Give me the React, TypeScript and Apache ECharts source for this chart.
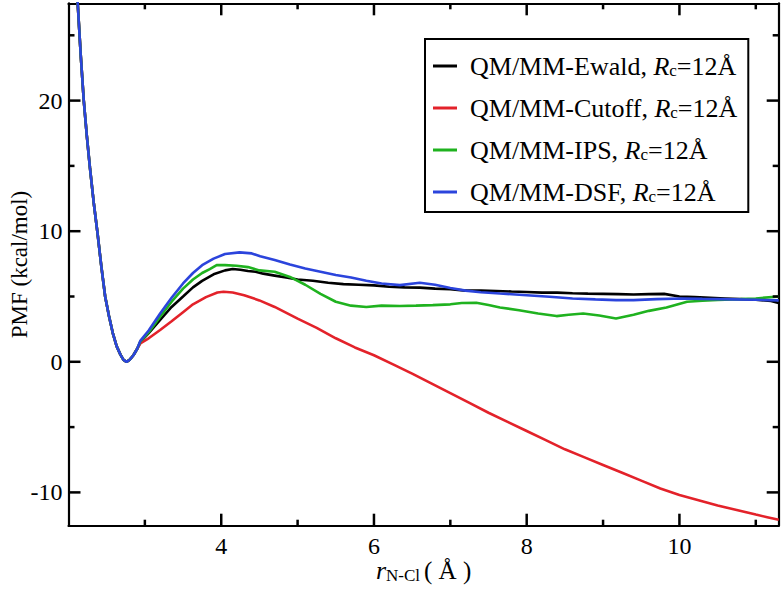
import React, { useEffect, useRef } from "react";
import * as echarts from "echarts";

const FONT = '"Liberation Serif", "Times New Roman", Times, serif';

// shared repulsive wall and minimum (all four curves coincide here)
const commonBranch: number[][] = [
  [2.08, 31], [2.12, 27.5], [2.16, 23.5], [2.2, 20.0], [2.24, 17.3], [2.28, 14.9],
  [2.33, 12.2], [2.38, 9.85], [2.43, 7.3], [2.48, 5.0], [2.53, 3.5], [2.58, 2.2],
  [2.63, 1.2], [2.68, 0.55], [2.72, 0.15], [2.76, 0], [2.8, 0.15], [2.85, 0.5], [2.9, 1.0],
];

const ewaldTail: number[][] = [
  [2.94, 1.5], [3.05, 2.2], [3.2, 3.2], [3.35, 4.2], [3.5, 5.0], [3.63, 5.7], [3.75, 6.2],
  [3.9, 6.7], [4.05, 7.0], [4.15, 7.1], [4.25, 7.05], [4.35, 6.95], [4.45, 6.9], [4.55, 6.75],
  [4.7, 6.6], [4.85, 6.45], [5.0, 6.3], [5.2, 6.2], [5.4, 6.05], [5.6, 5.95], [5.8, 5.9],
  [6.0, 5.85], [6.2, 5.75], [6.4, 5.7], [6.6, 5.68], [6.8, 5.6], [7.0, 5.55], [7.2, 5.45],
  [7.4, 5.45], [7.6, 5.42], [7.8, 5.38], [8.0, 5.35], [8.2, 5.3], [8.4, 5.3], [8.6, 5.25],
  [8.8, 5.22], [9.0, 5.2], [9.2, 5.18], [9.4, 5.15], [9.6, 5.18], [9.8, 5.2], [10.0, 5.0],
  [10.2, 4.95], [10.4, 4.9], [10.6, 4.85], [10.8, 4.8], [11.0, 4.75], [11.2, 4.65], [11.3, 4.5],
];

const cutoffTail: number[][] = [
  [2.94, 1.4], [3.05, 1.8], [3.2, 2.43], [3.35, 3.1], [3.5, 3.8], [3.63, 4.4], [3.8, 4.95],
  [3.95, 5.3], [4.03, 5.36], [4.15, 5.3], [4.3, 5.1], [4.5, 4.7], [4.7, 4.2], [5.0, 3.3],
  [5.25, 2.6], [5.5, 1.8], [5.75, 1.1], [6.0, 0.5], [6.25, -0.2], [6.5, -0.9], [6.75, -1.65],
  [7.0, -2.4], [7.25, -3.15], [7.5, -3.9], [7.75, -4.6], [8.0, -5.3], [8.25, -6.0], [8.5, -6.7],
  [8.75, -7.3], [9.0, -7.9], [9.25, -8.5], [9.5, -9.1], [9.75, -9.7], [10.0, -10.2],
  [10.25, -10.6], [10.5, -11.0], [10.75, -11.35], [11.0, -11.7], [11.15, -11.9], [11.3, -12.1],
];

const ipsTail: number[][] = [
  [2.94, 1.55], [3.05, 2.25], [3.2, 3.45], [3.35, 4.6], [3.5, 5.6], [3.63, 6.3], [3.75, 6.8],
  [3.85, 7.1], [3.94, 7.4], [4.05, 7.4], [4.2, 7.35], [4.35, 7.25], [4.5, 7.0], [4.7, 6.9],
  [4.9, 6.5], [5.1, 5.9], [5.3, 5.2], [5.5, 4.6], [5.7, 4.3], [5.9, 4.2], [6.1, 4.3],
  [6.34, 4.27], [6.55, 4.3], [6.77, 4.34], [7.0, 4.4], [7.15, 4.5], [7.34, 4.52], [7.5, 4.35],
  [7.65, 4.16], [7.9, 3.95], [8.15, 3.7], [8.39, 3.5], [8.55, 3.6], [8.74, 3.7], [8.95, 3.55],
  [9.17, 3.32], [9.4, 3.6], [9.6, 3.9], [9.83, 4.16], [10.1, 4.6], [10.3, 4.68], [10.5, 4.74],
  [10.8, 4.8], [11.0, 4.85], [11.3, 5.0],
];

const dsfTail: number[][] = [
  [2.94, 1.6], [3.05, 2.4], [3.2, 3.7], [3.35, 4.9], [3.5, 6.0], [3.63, 6.8], [3.75, 7.4],
  [3.9, 7.9], [4.05, 8.25], [4.24, 8.38], [4.4, 8.3], [4.51, 8.09], [4.7, 7.8], [4.9, 7.45],
  [5.1, 7.15], [5.3, 6.9], [5.5, 6.65], [5.7, 6.45], [5.9, 6.2], [6.1, 6.0], [6.34, 5.87],
  [6.6, 6.05], [6.8, 5.9], [7.0, 5.65], [7.2, 5.45], [7.4, 5.33], [7.65, 5.23], [8.0, 5.1],
  [8.3, 4.98], [8.6, 4.85], [8.9, 4.78], [9.17, 4.72], [9.4, 4.72], [9.7, 4.8], [10.04, 4.85],
  [10.3, 4.82], [10.7, 4.78], [11.0, 4.75], [11.3, 4.7],
];

const seriesNames = ["QM/MM-Ewald", "QM/MM-Cutoff", "QM/MM-IPS", "QM/MM-DSF"];
const seriesColors = ["#000000", "#e3222a", "#1fb21f", "#2b44dc"];
const seriesTails = [ewaldTail, cutoffTail, ipsTail, dsfTail];

const xTickLabels = [4, 6, 8, 10];
const xMinorTicks = [3, 5, 7, 9, 11];
const yTickLabels = [-10, 0, 10, 20];
const yMinorTicks = [-5, 5, 15, 25];

const X_MIN = 2.0;
const X_MAX = 11.3;
const Y_MIN = -12.55;
const Y_MAX = 27.45;

const W = 783;
const H = 592;
const G_LEFT = 68.5;
const G_RIGHT = 4.3;
const G_TOP = 3.3;
const G_BOTTOM = 66.3;
const MAJOR_LEN = 12;
const MINOR_LEN = 6;

export default function App() {
  const ref = useRef<HTMLDivElement>(null);
  useEffect(() => {
    if (!ref.current) return;
    const chart = echarts.init(ref.current, undefined, { renderer: "svg" });
    const lineStyle = { color: "#000", width: 2.2 };

    const series: any[] = seriesNames.map((name, i) => ({
      name,
      type: "line",
      xAxisIndex: 0,
      yAxisIndex: 0,
      showSymbol: false,
      symbol: "none",
      clip: true,
      color: seriesColors[i],
      lineStyle: { color: seriesColors[i], width: 2.6 },
      data: [...commonBranch, ...seriesTails[i]],
      z: 2 + i,
    }));

    // tick marks on all four sides (side: 0 bottom, 1 top, 2 left, 3 right)
    const tickItems: number[][] = [];
    const addTicks = (vals: number[], sides: number[], len: number) =>
      vals.forEach((v) => sides.forEach((s) => tickItems.push([s, v, len])));
    addTicks(xTickLabels, [0, 1], MAJOR_LEN);
    addTicks(xMinorTicks, [0, 1], MINOR_LEN);
    addTicks(yTickLabels, [2, 3], MAJOR_LEN);
    addTicks(yMinorTicks, [2, 3], MINOR_LEN);
    series.push({
      type: "custom",
      name: "ticks",
      xAxisIndex: 0,
      yAxisIndex: 0,
      silent: true,
      clip: false,
      z: 50,
      data: tickItems,
      renderItem: (params: any, api: any) => {
        const side = api.value(0);
        const v = api.value(1);
        const len = api.value(2);
        const cs = params.coordSys;
        const st = { stroke: "#000000", lineWidth: 2.5 };
        const left = cs.x;
        const right = cs.x + cs.width;
        const top = cs.y;
        const bottom = cs.y + cs.height;
        if (side === 0 || side === 1) {
          const x = api.coord([v, 0])[0];
          const y0 = side === 0 ? bottom : top;
          const y1 = side === 0 ? bottom - len : top + len;
          return { type: "line", shape: { x1: x, y1: y0, x2: x, y2: y1 }, style: st };
        }
        const y = api.coord([X_MIN + 1, v])[1];
        const x0 = side === 2 ? left : right;
        const x1 = side === 2 ? left + len : right - len;
        return { type: "line", shape: { x1: x0, y1: y, x2: x1, y2: y }, style: st };
      },
    });

    chart.setOption({
      animation: false,
      backgroundColor: "#fff",
      grid: { left: G_LEFT, right: G_RIGHT, top: G_TOP, bottom: G_BOTTOM, containLabel: false, outerBoundsMode: "none" },
      xAxis: [
        {
          type: "value",
          position: "bottom",
          min: X_MIN,
          max: X_MAX,
          axisLine: { show: true, onZero: false, lineStyle },
          axisTick: { show: false },
          splitLine: { show: false },
          axisLabel: {
            show: true,
            customValues: xTickLabels,
            color: "#000",
            fontFamily: FONT,
            fontSize: 24,
            margin: 8,
          },
          name: "{i|r}{s|N-Cl}{n|( Å )}",
          nameLocation: "middle",
          nameGap: 32,
          nameMoveOverlap: false,
          nameTextStyle: {
            color: "#000",
            fontFamily: FONT,
            rich: {
              i: { fontFamily: FONT, fontStyle: "italic", fontSize: 26, color: "#000", lineHeight: 26, verticalAlign: "top" },
              s: { fontFamily: FONT, fontSize: 17, color: "#000", verticalAlign: "bottom", lineHeight: 17, padding: [11, 4, 0, 0] },
              n: { fontFamily: FONT, fontSize: 25, color: "#000", lineHeight: 26, verticalAlign: "top" },
            },
          },
        },
        {
          type: "value",
          position: "top",
          min: X_MIN,
          max: X_MAX,
          axisLine: { show: true, onZero: false, lineStyle },
          axisTick: { show: false },
          axisLabel: { show: false },
          splitLine: { show: false },
        },
      ],
      yAxis: [
        {
          type: "value",
          position: "left",
          min: Y_MIN,
          max: Y_MAX,
          axisLine: { show: true, onZero: false, lineStyle },
          axisTick: { show: false },
          splitLine: { show: false },
          axisLabel: {
            show: true,
            customValues: yTickLabels,
            color: "#000",
            fontFamily: FONT,
            fontSize: 24,
            margin: 6,
          },
          name: "PMF (kcal/mol)",
          nameLocation: "middle",
          nameGap: 38,
          nameMoveOverlap: false,
          nameTextStyle: { color: "#000", fontFamily: FONT, fontSize: 23 },
        },
        {
          type: "value",
          position: "right",
          min: Y_MIN,
          max: Y_MAX,
          axisLine: { show: true, onZero: false, lineStyle },
          axisTick: { show: false },
          axisLabel: { show: false },
          splitLine: { show: false },
        },
      ],
      legend: {
        show: true,
        orient: "vertical",
        left: 425,
        top: 39,
        padding: [9, 11, 7, 8],
        itemGap: 11,
        itemWidth: 24,
        itemHeight: 3,
        icon: "rect",
        borderColor: "#000",
        borderWidth: 2,
        backgroundColor: "#fff",
        data: seriesNames,
        formatter: (n: string) => `{f|${n}, }{i|R}{s|c}{a|=12Å}`,
        textStyle: {
          color: "#000",
          fontFamily: FONT,
          fontSize: 26,
          rich: {
            f: { fontFamily: FONT, fontSize: 26, color: "#000", lineHeight: 26, verticalAlign: "top", padding: [0, 0, 0, 8] },
            a: { fontFamily: FONT, fontSize: 26, color: "#000", lineHeight: 26, verticalAlign: "top" },
            i: { fontFamily: FONT, fontSize: 26, fontStyle: "italic", color: "#000", lineHeight: 26, verticalAlign: "top" },
            s: { fontFamily: FONT, fontSize: 17, color: "#000", verticalAlign: "bottom", lineHeight: 17, padding: [14, 0, 0, 0] },
          },
        },
      },
      series,
    });

    return () => chart.dispose();
  }, []);
  return <div ref={ref} style={{ width: W, height: H, position: "absolute", left: 0, top: 0 }} />;
}
